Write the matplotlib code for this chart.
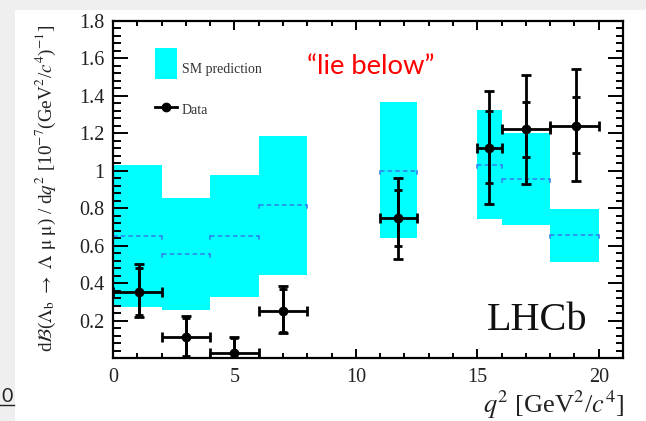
import matplotlib
matplotlib.use("Agg")
import matplotlib.pyplot as plt
from matplotlib.patches import Rectangle
from matplotlib.lines import Line2D
from matplotlib.ticker import MultipleLocator, FixedLocator, FixedFormatter
import numpy as np

# ---- data ----
bin_lo = [0, 2, 4, 6, 11, 15, 16, 18]
bin_hi = [2, 4, 6, 8, 12.5, 16, 18, 20]
sm_central = [0.65, 0.555, 0.65, 0.815, 1.0, 1.03, 0.955, 0.655]
sm_low = [0.27, 0.255, 0.325, 0.445, 0.64, 0.745, 0.71, 0.515]
sm_high = [1.03, 0.855, 0.975, 1.185, 1.365, 1.325, 1.20, 0.795]

data_x = [1.05, 3.0, 5.0, 7.0, 11.75, 15.5, 17.0, 19.05]
data_y = [0.355, 0.11, 0.025, 0.25, 0.75, 1.12, 1.225, 1.24]
tot_up = [0.145, 0.113, 0.086, 0.133, 0.211, 0.308, 0.289, 0.302]
tot_dn = [0.135, 0.11, 0.025, 0.119, 0.219, 0.296, 0.294, 0.297]
stat_up = [0.125, 0.105, 0.08, 0.121, 0.149, 0.20, 0.145, 0.155]
stat_dn = [0.125, 0.10, 0.025, 0.112, 0.154, 0.186, 0.149, 0.146]

y_ticks = [0.2, 0.4, 0.6, 0.8, 1.0, 1.2, 1.4, 1.6, 1.8]
y_ticklabels = ["0.2", "0.4", "0.6", "0.8", "1", "1.2", "1.4", "1.6", "1.8"]
x_ticks = [0, 5, 10, 15, 20]
x_ticklabels = ["0", "5", "10", "15", "20"]

plt.rcParams["mathtext.fontset"] = "stix"
plt.rcParams["font.family"] = ["Liberation Serif", "DejaVu Serif"]

W, H = 646, 421
fig = plt.figure(figsize=(W / 100, H / 100), dpi=100)
fig.patch.set_facecolor("white")

# slide background strips
gray = "#efefef"
fig.add_artist(Rectangle((0, 0), 15 / W, 1, transform=fig.transFigure,
                         facecolor=gray, edgecolor="none", zorder=-10))
fig.add_artist(Rectangle((0, 1 - 10 / H), 1, 10 / H, transform=fig.transFigure,
                         facecolor=gray, edgecolor="none", zorder=-10))

ax = fig.add_axes([113 / W, (H - 358) / H, (623 - 113) / W, (358 - 21) / H])
ax.set_xlim(0, 21)
ax.set_ylim(0, 1.8)

cyan = "#00ffff"
dash_col = "#2f7df0"
for lo, hi, c, l, h in zip(bin_lo, bin_hi, sm_central, sm_low, sm_high):
    ax.fill_between([lo, hi], [l, l], [h, h], color=cyan, lw=0, zorder=1)
    ax.plot([lo, hi], [c, c], ls=(0, (3, 2)), color=dash_col, lw=1.1, zorder=2)
    ax.plot([lo, lo], [c, c - 0.015], color=dash_col, lw=1.1, zorder=2)
    ax.plot([hi, hi], [c, c - 0.015], color=dash_col, lw=1.1, zorder=2)

xerr = [np.array(data_x) - np.array(bin_lo), np.array(bin_hi) - np.array(data_x)]
ax.errorbar(data_x, data_y, xerr=xerr, yerr=[tot_dn, tot_up], fmt="o",
            color="black", ms=6, lw=2, capsize=3.5, capthick=2, zorder=5)
ax.errorbar(data_x, data_y, yerr=[stat_dn, stat_up], fmt="none",
            ecolor="black", lw=2, capsize=3, capthick=2, zorder=5)

# ticks
ax.xaxis.set_major_locator(FixedLocator(x_ticks))
ax.xaxis.set_major_formatter(FixedFormatter(x_ticklabels))
ax.xaxis.set_minor_locator(MultipleLocator(1))
ax.yaxis.set_major_locator(FixedLocator(y_ticks))
ax.yaxis.set_major_formatter(FixedFormatter(y_ticklabels))
ax.yaxis.set_minor_locator(MultipleLocator(0.04))
ax.tick_params(axis="both", which="both", direction="in", top=True, right=True,
               width=1.4, labelsize=14.5, color="black")
ax.tick_params(axis="x", which="major", length=6.5, pad=7)
ax.tick_params(axis="x", which="minor", length=3.6)
ax.tick_params(axis="y", which="major", length=10.8, pad=6)
ax.tick_params(axis="y", which="minor", length=5.4)
ax.tick_params(labelcolor="#222222")
for s in ax.spines.values():
    s.set_linewidth(1.6)

# legend (drawn manually)
fig.add_artist(Rectangle((155 / W, (H - 79) / H), 22 / W, 31 / H,
                         transform=fig.transFigure, facecolor=cyan,
                         edgecolor="none", zorder=3))
fig.text(182 / W, (H - 70) / H, "SM prediction", fontsize=10, va="center",
         ha="left", color="#333333")
fig.add_artist(Line2D([155 / W, 177 / W], [(H - 107) / H] * 2,
                      transform=fig.transFigure, color="black", lw=2))
fig.add_artist(Line2D([166 / W], [(H - 107) / H], transform=fig.transFigure,
                      color="black", marker="o", ms=6))
fig.text(182 / W, (H - 110) / H, "Data", fontsize=10, va="center",
         ha="left", color="#333333")

fig.text(307 / W, (H - 67) / H, "\u201clie below\u201d", fontsize=19.7,
         color="#ff0000", family=["Lato", "DejaVu Sans"], va="center",
         ha="left")

fig.text(587 / W, (H - 330) / H, "LHCb", fontsize=29, ha="right",
         va="baseline", color="#111111")

fig.text(46 / W, (H - 188) / H,
         r"d$\mathcal{B}$($\Lambda_{\rm b}$ $\rightarrow$ $\Lambda$ $\mathrm{\mu}$ $\mathrm{\mu}$) / d$q^2$ [10$^{-7}$(GeV$^2$/$c^4$)$^{-1}$]",
         fontsize=13.8, color="#222222", rotation=90, ha="center", va="center")
fig.text(624 / W, (H - 405) / H, r"$q^2$ [GeV$^2$/$c^4$]", fontsize=19,
         ha="right", va="center", color="#222222")

# slide artifact: underlined "0"
fig.text(1 / W, (H - 396) / H, "0", fontsize=14, family=["Lato", "DejaVu Sans"],
         ha="left", va="center", color="#222222")
fig.add_artist(Line2D([0, 14 / W], [(H - 405) / H] * 2, transform=fig.transFigure,
                      color="#222222", lw=1))

fig.savefig("out.png", dpi=100, facecolor=fig.get_facecolor())
